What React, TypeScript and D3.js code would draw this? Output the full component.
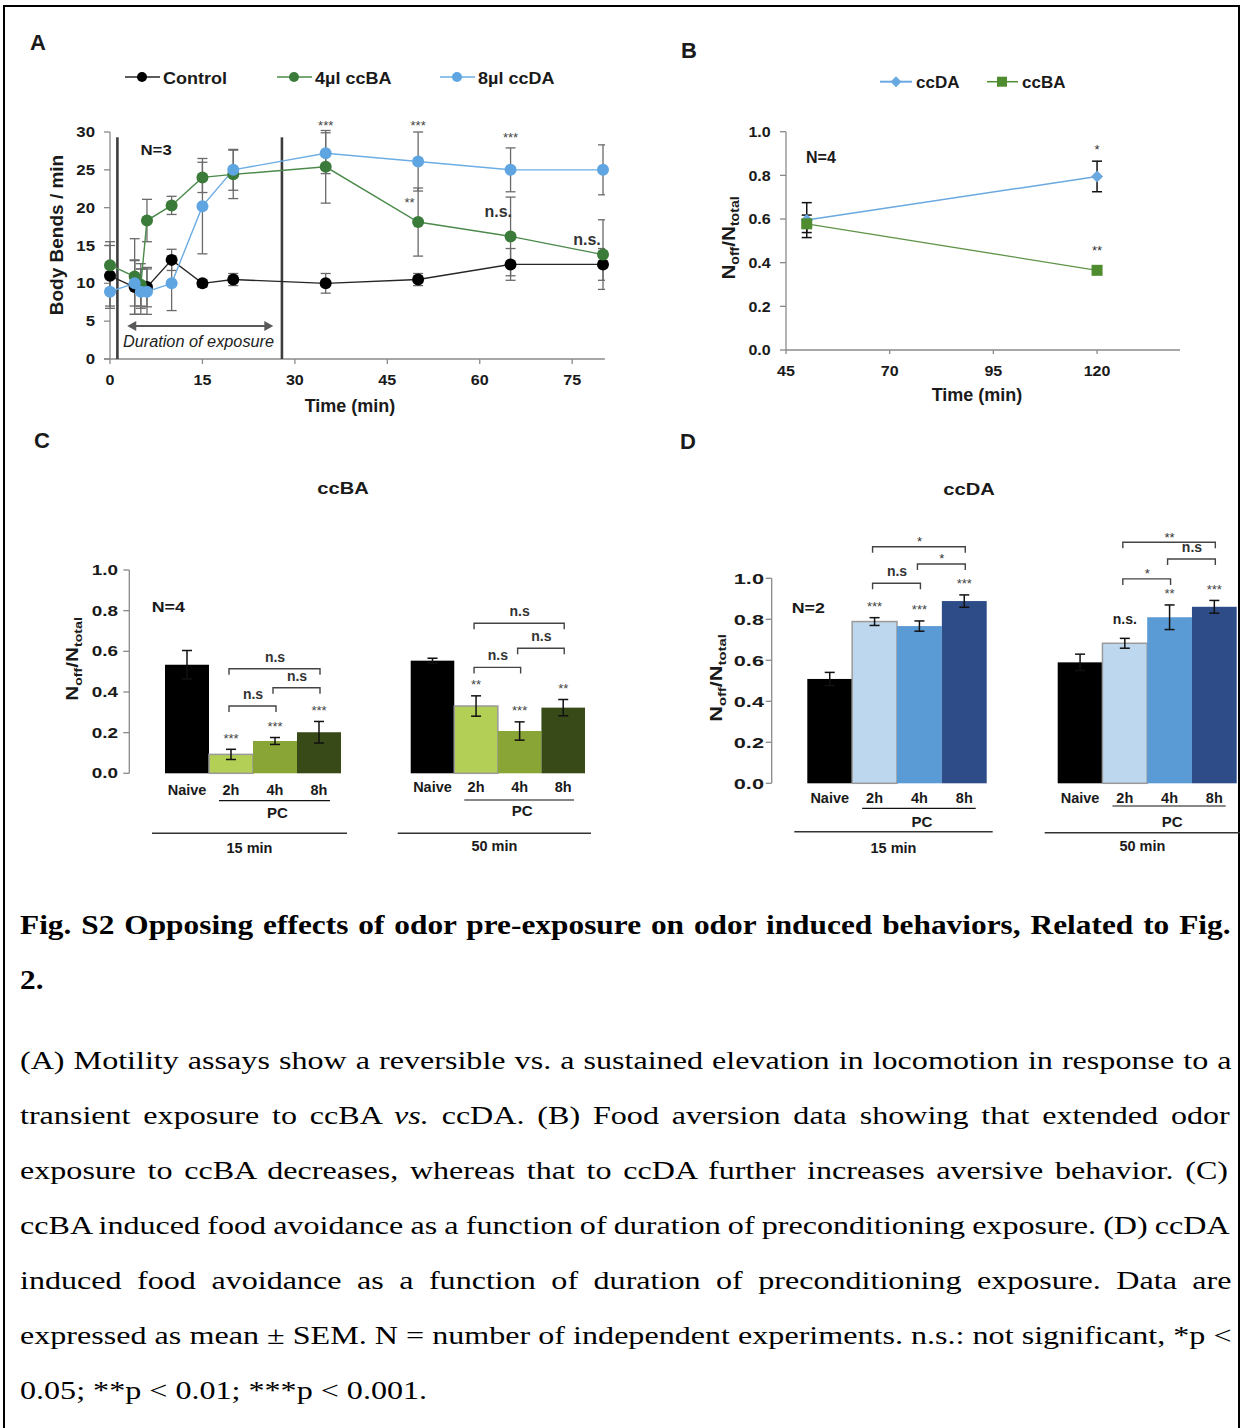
import React from 'react';
import * as d3 from 'd3';

const SANS = "'Liberation Sans', Arial, Helvetica, sans-serif";
const SERIF = "'Liberation Serif', 'Times New Roman', serif";
const AXIS = '#8a8a8a';

// ---------------- Panel A data ----------------
const timesA = [0, 4, 5, 6, 10, 15, 20, 35, 50, 65, 80];
const controlMean = [11.0, 9.5, 9.3, 9.5, 13.1, 10.0, 10.5, 10.0, 10.5, 12.5, 12.5];
const controlSem = [4.0, 3.6, 2.6, 2.6, 1.4, 0.5, 0.8, 1.3, 0.8, 2.1, 2.1];
const ccBAMean = [12.4, 10.9, 9.8, 18.3, 20.3, 24.0, 24.4, 25.4, 18.1, 16.2, 13.8];
const ccBASem = [3.1, 5.0, 2.8, 2.8, 1.2, 2.0, 3.2, 4.8, 4.5, 5.2, 4.6];
const ccDAMean = [8.9, 10.0, 8.9, 8.9, 10.0, 20.2, 25.0, 27.2, 26.1, 25.0, 25.0];
const ccDASem = [2.2, 3.0, 3.0, 3.0, 3.6, 6.3, 2.7, 2.7, 3.9, 2.9, 3.3];
const legendA = ['Control', '4µl ccBA', '8µl ccDA'];
const ticksAX = [0, 15, 30, 45, 60, 75];
const ticksAY = [0, 5, 10, 15, 20, 25, 30];
const exposureA = [1.2, 27.9];
const arrowA = [2.8, 26.5];
const annotA = [
  { t: 35, v: 31.2, label: '***' },
  { t: 50, v: 31.2, label: '***' },
  { t: 65, v: 29.7, label: '***' },
  { t: 48.6, v: 21.1, label: '**' },
  { t: 63, v: 19.3, label: 'n.s.' },
  { t: 77.4, v: 15.7, label: 'n.s.' },
];

// ---------------- Panel B data ----------------
const timesB = [50, 120];
const bDAMean = [0.595, 0.795];
const bDASem = [0.08, 0.07];
const bBAMean = [0.578, 0.365];
const bBASem = [0.04, 0.012];
const legendB = ['ccDA', 'ccBA'];
const ticksBX = [45, 70, 95, 120];
const ticksBY = [0, 0.2, 0.4, 0.6, 0.8, 1.0];
const annotB = [
  { t: 120, v: 0.931, label: '*' },
  { t: 120, v: 0.472, label: '**' },
];

// ---------------- Panels C / D data ----------------
const cats = ['Naive', '2h', '4h', '8h'];
const ticksBar = [0, 0.2, 0.4, 0.6, 0.8, 1.0];
const c15Mean = [0.534, 0.093, 0.159, 0.202];
const c15Sem = [0.07, 0.025, 0.017, 0.053];
const c50Mean = [0.554, 0.331, 0.208, 0.323];
const c50Sem = [0.012, 0.05, 0.045, 0.04];
const d15Mean = [0.509, 0.789, 0.767, 0.889];
const d15Sem = [0.032, 0.019, 0.025, 0.03];
const d50Mean = [0.59, 0.683, 0.81, 0.861];
const d50Sem = [0.04, 0.024, 0.06, 0.031];
const c15Stars = ['', '***', '***', '***'];
const c50Stars = ['', '**', '***', '**'];
const d15Stars = ['', '***', '***', '***'];
const d50Stars = ['', 'n.s.', '**', '***'];
const c15Brackets = [
  { a: 1, b: 2, v: 0.331, label: 'n.s' },
  { a: 2, b: 3, v: 0.421, label: 'n.s' },
  { a: 1, b: 3, v: 0.514, label: 'n.s' },
];
const c50Brackets = [
  { a: 1, b: 2, v: 0.521, label: 'n.s' },
  { a: 2, b: 3, v: 0.615, label: 'n.s' },
  { a: 1, b: 3, v: 0.738, label: 'n.s' },
];
const d15Brackets = [
  { a: 1, b: 2, v: 0.976, label: 'n.s' },
  { a: 2, b: 3, v: 1.07, label: '*' },
  { a: 1, b: 3, v: 1.154, label: '*' },
];
const d50Brackets = [
  { a: 1, b: 2, v: 0.997, label: '*' },
  { a: 2, b: 3, v: 1.094, label: 'n.s' },
  { a: 1, b: 3, v: 1.176, label: '**' },
];
const ccBAColors = ['#000000', '#B3CF55', '#88A536', '#384A17'];
const ccDAColors = ['#000000', '#BDD7EE', '#5B9BD5', '#2E4D88'];

// ---------------- Caption text ----------------
const captionTitle = [
  'Fig. S2 Opposing effects of odor pre-exposure on odor induced behaviors, Related to Fig.',
  '2.',
];
const captionBody: [string, boolean][][] = [
  [['(A) Motility assays show a reversible vs. a sustained elevation in locomotion in response to a', false]],
  [['transient exposure to ccBA ', false], ['vs.', true], [' ccDA. (B) Food aversion data showing that extended odor', false]],
  [['exposure to ccBA decreases, whereas that to ccDA further increases aversive behavior. (C)', false]],
  [['ccBA induced food avoidance as a function of duration of preconditioning exposure. (D) ccDA', false]],
  [['induced food avoidance as a function of duration of preconditioning exposure. Data are', false]],
  [['expressed as mean ± SEM. N = number of independent experiments. n.s.: not significant, *p <', false]],
  [['0.05; **p < 0.01; ***p < 0.001.', false]],
];

// ---------------- helpers ----------------
function T(props: any) {
  const { x, y, sx = 1, rot = 0, fs = 14, weight = 'bold', anchor = 'middle', fill = '#1a1a1a', family = SANS, italic = false, children } = props;
  const tr = `translate(${x},${y})${rot ? ` rotate(${rot})` : ''}${sx !== 1 ? ` scale(${sx},1)` : ''}`;
  return (
    <text transform={tr} fontSize={fs} fontWeight={weight} textAnchor={anchor} fill={fill} fontFamily={family} fontStyle={italic ? 'italic' : 'normal'}>
      {children}
    </text>
  );
}

// baseline from visual centre
function base(label: string, cy: number, fs: number) {
  if (/^\*+$/.test(label)) return cy + 0.58 * fs;
  if (/^[a-z.]+$/.test(label)) return cy + 0.28 * fs;
  return cy + 0.36 * fs;
}

let _ctx: CanvasRenderingContext2D | null = null;
function textWidth(s: string, font: string) {
  if (!_ctx) _ctx = document.createElement('canvas').getContext('2d');
  _ctx!.font = font;
  return _ctx!.measureText(s).width;
}

function NLabel({ x, y, fs, sx }: any) {
  return (
    <text transform={`translate(${x},${y}) rotate(-90) scale(${sx},1)`} fontSize={fs} fontWeight="bold" textAnchor="middle" fill="#1a1a1a" fontFamily={SANS}>
      N<tspan fontSize={fs * 0.68} dy={fs * 0.22}>off</tspan>
      <tspan dy={-fs * 0.22}>/N</tspan>
      <tspan fontSize={fs * 0.68} dy={fs * 0.22}>total</tspan>
    </text>
  );
}

// ---------------- Panel A ----------------
function PanelA() {
  const x = d3.scaleLinear().domain([0, 80]).range([110, 603]);
  const y = d3.scaleLinear().domain([0, 30]).range([359, 132]);
  const series = [
    { name: legendA[0], mean: controlMean, sem: controlSem, fill: '#000000', stroke: '#262626' },
    { name: legendA[1], mean: ccBAMean, sem: ccBASem, fill: '#3A7B3A', stroke: '#4B8A4B' },
    { name: legendA[2], mean: ccDAMean, sem: ccDASem, fill: '#5EA5E1', stroke: '#6BADE4' },
  ];
  const mk = (vals: number[]) => d3.line<number>().x((_, i) => x(timesA[i])).y((d) => y(d))(vals) || '';
  const legendX = [125, 277, 440];
  const ay = y(4.36);
  return (
    <g>
      <defs>
        <clipPath id="clipA"><rect x={90} y={100} width={515} height={280} /></clipPath>
      </defs>
      <T x={38} y={50} fs={22}>A</T>
      {series.map((s, i) => (
        <g key={s.name}>
          <line x1={legendX[i]} x2={legendX[i] + 35} y1={77} y2={77} stroke={s.stroke} strokeWidth={1.6} />
          <circle cx={legendX[i] + 17} cy={77} r={5} fill={s.fill} />
          <T x={legendX[i] + 38} y={84} fs={17} sx={1.06} anchor="start">{s.name}</T>
        </g>
      ))}
      <line x1={x(0)} x2={x(0)} y1={y(30)} y2={y(0)} stroke={AXIS} strokeWidth={1.3} />
      {ticksAY.map((v) => (
        <g key={v}>
          <line x1={x(0) - 6} x2={x(0)} y1={y(v)} y2={y(v)} stroke={AXIS} strokeWidth={1.3} />
          <T x={95} y={y(v) + 5} fs={14} sx={1.2} anchor="end">{String(v)}</T>
        </g>
      ))}
      <line x1={x(0) - 6} x2={x(80.3)} y1={y(0)} y2={y(0)} stroke={AXIS} strokeWidth={1.3} />
      {ticksAX.map((t) => (
        <g key={t}>
          <line x1={x(t)} x2={x(t)} y1={y(0)} y2={y(0) + 5} stroke={AXIS} strokeWidth={1.3} />
          <T x={x(t)} y={384.5} fs={14} sx={1.15}>{String(t)}</T>
        </g>
      ))}
      <T x={350} y={411.5} fs={18}>Time (min)</T>
      <T x={63} y={235} fs={19} rot={-90}>Body Bends / min</T>
      {exposureA.map((t) => (
        <line key={t} x1={x(t)} x2={x(t)} y1={y(29.3)} y2={y(0)} stroke="#3d3d3d" strokeWidth={2.6} />
      ))}
      <line x1={x(arrowA[0]) + 6} x2={x(arrowA[1]) - 6} y1={ay} y2={ay} stroke="#5a5a5a" strokeWidth={1.8} />
      <path d={`M${x(arrowA[0])},${ay} l9,-5 l0,10 z`} fill="#5a5a5a" />
      <path d={`M${x(arrowA[1])},${ay} l-9,-5 l0,10 z`} fill="#5a5a5a" />
      <T x={198.5} y={346.5} fs={16.3} weight="normal" italic fill="#222">Duration of exposure</T>
      <T x={140.5} y={155} fs={14} sx={1.2} anchor="start">N=3</T>
      <g clipPath="url(#clipA)" stroke="#6a6a6a" strokeWidth={1.3}>
        {series.map((s) =>
          s.mean.map((m, i) => {
            const cx = x(timesA[i]);
            const y1 = y(m + s.sem[i]);
            const y2 = y(m - s.sem[i]);
            return (
              <g key={s.name + i}>
                <line x1={cx} x2={cx} y1={y1} y2={y2} />
                <line x1={cx - 5} x2={cx + 5} y1={y1} y2={y1} />
                <line x1={cx - 5} x2={cx + 5} y1={y2} y2={y2} />
              </g>
            );
          })
        )}
      </g>
      {series.map((s) => (
        <path key={s.name} d={mk(s.mean)} fill="none" stroke={s.stroke} strokeWidth={1.4} />
      ))}
      {series.map((s) =>
        s.mean.map((m, i) => <circle key={s.name + 'c' + i} cx={x(timesA[i])} cy={y(m)} r={6} fill={s.fill} />)
      )}
      {annotA.map((a, i) => {
        const isStar = /^\*+$/.test(a.label);
        const fs = isStar ? 13 : 16;
        return (
          <T key={i} x={x(a.t)} y={base(a.label, y(a.v), fs)} fs={fs} weight={isStar ? 'normal' : 'bold'} fill={isStar ? '#444' : '#333'}>
            {a.label}
          </T>
        );
      })}
    </g>
  );
}

// ---------------- Panel B ----------------
function PanelB() {
  const x = d3.scaleLinear().domain([45, 140]).range([786, 1180]);
  const y = d3.scaleLinear().domain([0, 1]).range([350, 131.7]);
  const line = d3.line<number>().x((_, i) => x(timesB[i])).y((d) => y(d));
  const DA = '#6AA8E0';
  const BA = '#4F8B2F';
  const err = (mean: number[], sem: number[], key: string) =>
    mean.map((m, i) => {
      const cx = x(timesB[i]);
      const y1 = y(m + sem[i]);
      const y2 = y(m - sem[i]);
      return (
        <g key={key + i} stroke="#111" strokeWidth={1.5}>
          <line x1={cx} x2={cx} y1={y1} y2={y2} />
          <line x1={cx - 5} x2={cx + 5} y1={y1} y2={y1} />
          <line x1={cx - 5} x2={cx + 5} y1={y2} y2={y2} />
        </g>
      );
    });
  return (
    <g>
      <T x={689} y={58} fs={22}>B</T>
      <line x1={880} x2={912} y1={81.7} y2={81.7} stroke={DA} strokeWidth={2} />
      <path d={`M896,76.2 l5.5,5.5 l-5.5,5.5 l-5.5,-5.5 z`} fill={DA} />
      <T x={916} y={88} fs={17} anchor="start">{legendB[0]}</T>
      <line x1={987} x2={1018} y1={81.7} y2={81.7} stroke={BA} strokeWidth={1.5} />
      <rect x={997} y={76.7} width={10} height={10} fill={BA} />
      <T x={1022} y={88} fs={17} anchor="start">{legendB[1]}</T>
      <line x1={x(45)} x2={x(45)} y1={y(1)} y2={y(0)} stroke={AXIS} strokeWidth={1.3} />
      {ticksBY.map((v) => (
        <g key={v}>
          <line x1={x(45) - 6} x2={x(45)} y1={y(v)} y2={y(v)} stroke={AXIS} strokeWidth={1.3} />
          <T x={770.7} y={y(v) + 5.4} fs={15} sx={1.07} anchor="end">{v.toFixed(1)}</T>
        </g>
      ))}
      <line x1={x(45)} x2={x(140)} y1={y(0)} y2={y(0)} stroke={AXIS} strokeWidth={1.3} />
      {ticksBX.map((t) => (
        <g key={t}>
          <line x1={x(t)} x2={x(t)} y1={y(0)} y2={y(0) + 4} stroke={AXIS} strokeWidth={1.3} />
          <T x={x(t)} y={375.7} fs={15} sx={1.07}>{String(t)}</T>
        </g>
      ))}
      <T x={977} y={401} fs={18}>Time (min)</T>
      <NLabel x={735} y={238} fs={18} sx={1.15} />
      <T x={806} y={163.3} fs={16} anchor="start">N=4</T>
      {err(bDAMean, bDASem, 'da')}
      {err(bBAMean, bBASem, 'ba')}
      <path d={line(bDAMean) || ''} fill="none" stroke={DA} strokeWidth={1.5} />
      <path d={line(bBAMean) || ''} fill="none" stroke="#5E9447" strokeWidth={1.3} />
      {bDAMean.map((m, i) => (
        <path key={'dm' + i} d={`M${x(timesB[i])},${y(m) - 6} l6,6 l-6,6 l-6,-6 z`} fill={DA} />
      ))}
      {bBAMean.map((m, i) => (
        <rect key={'bm' + i} x={x(timesB[i]) - 5.5} y={y(m) - 5.5} width={11} height={11} fill={BA} />
      ))}
      {annotB.map((a, i) => (
        <T key={i} x={x(a.t)} y={base(a.label, y(a.v), 13)} fs={13} weight="normal" fill="#333">{a.label}</T>
      ))}
    </g>
  );
}

// ---------------- Bar group ----------------
function BarGroup(props: any) {
  const { range, mean, sem, colors, stars, brackets, y, catBase, pcLineY, pcBase, longLineY, groupBase, groupLabel } = props;
  const band = d3.scaleBand<string>().domain(cats).range(range).padding(0);
  const bw = band.bandwidth();
  const cx = (i: number) => (band(cats[i]) as number) + bw / 2;
  const pcX1 = (band('2h') as number) + 10;
  const pcX2 = (band('8h') as number) + bw - 11;
  const lX1 = (band('Naive') as number) - 13;
  const lX2 = Math.min((band('8h') as number) + bw + 6, 1240);
  return (
    <g>
      {cats.map((c, i) => (
        <rect key={c} x={band(c)} y={y(mean[i])} width={bw} height={y(0) - y(mean[i])} fill={colors[i]}
          stroke={i === 1 ? '#9a9a9a' : 'none'} strokeWidth={i === 1 ? 1.5 : 0} />
      ))}
      {cats.map((c, i) => {
        const y1 = y(mean[i] + sem[i]);
        const y2 = y(mean[i] - sem[i]);
        return (
          <g key={c + 'e'} stroke="#111" strokeWidth={1.5}>
            <line x1={cx(i)} x2={cx(i)} y1={y1} y2={y2} />
            <line x1={cx(i) - 5} x2={cx(i) + 5} y1={y1} y2={y1} />
            <line x1={cx(i) - 5} x2={cx(i) + 5} y1={y2} y2={y2} />
          </g>
        );
      })}
      {stars.map((s: string, i: number) => {
        if (!s) return null;
        const isStar = /^\*+$/.test(s);
        const fs = isStar ? 13 : 14;
        const cy = y(mean[i] + sem[i]) - (isStar ? 14 : 18);
        return (
          <T key={'s' + i} x={cx(i)} y={base(s, cy, fs)} fs={fs} weight={isStar ? 'normal' : 'bold'} fill={isStar ? '#444' : '#222'}>{s}</T>
        );
      })}
      {brackets.map((b: any, i: number) => {
        const by = y(b.v);
        const isStar = /^\*+$/.test(b.label);
        const fs = isStar ? 13 : 14;
        const cy = by - (isStar ? 8 : 11);
        return (
          <g key={'b' + i}>
            <path d={`M${cx(b.a) - 2},${by + 6} V${by} H${cx(b.b) + 1} V${by + 6}`} fill="none" stroke="#444" strokeWidth={1.4} />
            <T x={(cx(b.a) + cx(b.b)) / 2} y={base(b.label, cy, fs)} fs={fs} weight={isStar ? 'normal' : 'bold'} fill="#333">{b.label}</T>
          </g>
        );
      })}
      {cats.map((c, i) => (
        <T key={c + 'l'} x={cx(i)} y={catBase} fs={14.5}>{c}</T>
      ))}
      <line x1={pcX1} x2={pcX2} y1={pcLineY} y2={pcLineY} stroke="#111" strokeWidth={1.2} />
      <T x={(pcX1 + pcX2) / 2 + 3} y={pcBase} fs={15}>PC</T>
      <line x1={lX1} x2={lX2} y1={longLineY} y2={longLineY} stroke="#333" strokeWidth={1.4} />
      <T x={(lX1 + lX2) / 2} y={groupBase} fs={14.5}>{groupLabel}</T>
    </g>
  );
}

// ---------------- Panel C ----------------
function PanelC() {
  const y = d3.scaleLinear().domain([0, 1]).range([773.3, 570]);
  const ax = 129.3;
  return (
    <g>
      <T x={42} y={448} fs={22}>C</T>
      <T x={343} y={493.5} fs={16} sx={1.26}>ccBA</T>
      <line x1={ax} x2={ax} y1={y(1)} y2={y(0)} stroke={AXIS} strokeWidth={1.3} />
      {ticksBar.map((v) => (
        <g key={v}>
          <line x1={ax - 6} x2={ax} y1={y(v)} y2={y(v)} stroke={AXIS} strokeWidth={1.3} />
          <T x={118} y={y(v) + 5} fs={14} sx={1.35} anchor="end">{v.toFixed(1)}</T>
        </g>
      ))}
      <NLabel x={78} y={659} fs={16} sx={1.3} />
      <T x={151.7} y={611.7} fs={14} sx={1.27} anchor="start">N=4</T>
      <BarGroup range={[165, 341]} mean={c15Mean} sem={c15Sem} colors={ccBAColors} stars={c15Stars} brackets={c15Brackets} y={y}
        catBase={795} pcLineY={800.7} pcBase={818} longLineY={833.3} groupBase={852.7} groupLabel="15 min" />
      <BarGroup range={[410.7, 585]} mean={c50Mean} sem={c50Sem} colors={ccBAColors} stars={c50Stars} brackets={c50Brackets} y={y}
        catBase={792} pcLineY={800} pcBase={816} longLineY={833.3} groupBase={850.7} groupLabel="50 min" />
    </g>
  );
}

// ---------------- Panel D ----------------
function PanelD() {
  const y = d3.scaleLinear().domain([0, 1]).range([783.3, 578.3]);
  const ax = 771.7;
  return (
    <g>
      <T x={688} y={449} fs={22}>D</T>
      <T x={969} y={495} fs={16} sx={1.26}>ccDA</T>
      <line x1={ax} x2={ax} y1={y(1)} y2={y(0)} stroke={AXIS} strokeWidth={1.3} />
      {ticksBar.map((v) => (
        <g key={v}>
          <line x1={ax - 6} x2={ax} y1={y(v)} y2={y(v)} stroke={AXIS} strokeWidth={1.3} />
          <T x={764} y={y(v) + 5.4} fs={15} sx={1.45} anchor="end">{v.toFixed(1)}</T>
        </g>
      ))}
      <NLabel x={722} y={678} fs={17} sx={1.28} />
      <T x={791.7} y={613.3} fs={14} sx={1.27} anchor="start">N=2</T>
      <BarGroup range={[807.3, 986.7]} mean={d15Mean} sem={d15Sem} colors={ccDAColors} stars={d15Stars} brackets={d15Brackets} y={y}
        catBase={802.7} pcLineY={808.3} pcBase={827} longLineY={831.7} groupBase={853} groupLabel="15 min" />
      <BarGroup range={[1057.7, 1236.7]} mean={d50Mean} sem={d50Sem} colors={ccDAColors} stars={d50Stars} brackets={d50Brackets} y={y}
        catBase={802.7} pcLineY={806} pcBase={826.7} longLineY={832.7} groupBase={850.7} groupLabel="50 min" />
    </g>
  );
}

// ---------------- Caption ----------------
function JLine({ segs, x, y, width, fs, sx, bold, justify }: any) {
  const font = (it: boolean) => `${it ? 'italic ' : ''}${bold ? 'bold ' : ''}${fs}px 'Liberation Serif'`;
  const natural = segs.reduce((a: number, [s, it]: any) => a + textWidth(s, font(it)), 0);
  const spaces = segs.reduce((a: number, [s]: any) => a + (s.match(/ /g) || []).length, 0);
  const ws = justify && spaces > 0 ? (width / sx - natural) / spaces : 0;
  return (
    <text transform={`translate(${x},${y}) scale(${sx},1)`} fontSize={fs} fontWeight={bold ? 'bold' : 'normal'} fontFamily={SERIF} fill="#000"
      style={{ wordSpacing: `${ws}px`, whiteSpace: 'pre' }}>
      {segs.map(([s, it]: any, i: number) => (
        <tspan key={i} fontStyle={it ? 'italic' : 'normal'}>{s}</tspan>
      ))}
    </text>
  );
}

function Caption() {
  const left = 20;
  const W = 1212;
  return (
    <g>
      {captionTitle.map((t, i) => (
        <JLine key={'t' + i} segs={[[t, false]]} x={left} y={934 + i * 55} width={W} fs={28} sx={1.12} bold justify={i === 0} />
      ))}
      {captionBody.map((segs, i) => (
        <JLine key={'b' + i} segs={segs} x={left} y={1069 + i * 55} width={W} fs={26} sx={1.235} bold={false} justify={i < captionBody.length - 1} />
      ))}
    </g>
  );
}

export default function App() {
  return (
    <div style={{ position: 'absolute', left: 0, top: 0 }}>
      <svg width={1243} height={1428} viewBox="0 0 1243 1428" style={{ display: 'block', background: '#fff' }}>
        <rect x={0} y={0} width={1243} height={1428} fill="#fff" />
        <rect x={4} y={6} width={1235} height={1440} fill="none" stroke="#000" strokeWidth={2} />
        <PanelA />
        <PanelB />
        <PanelC />
        <PanelD />
        <Caption />
      </svg>
    </div>
  );
}
